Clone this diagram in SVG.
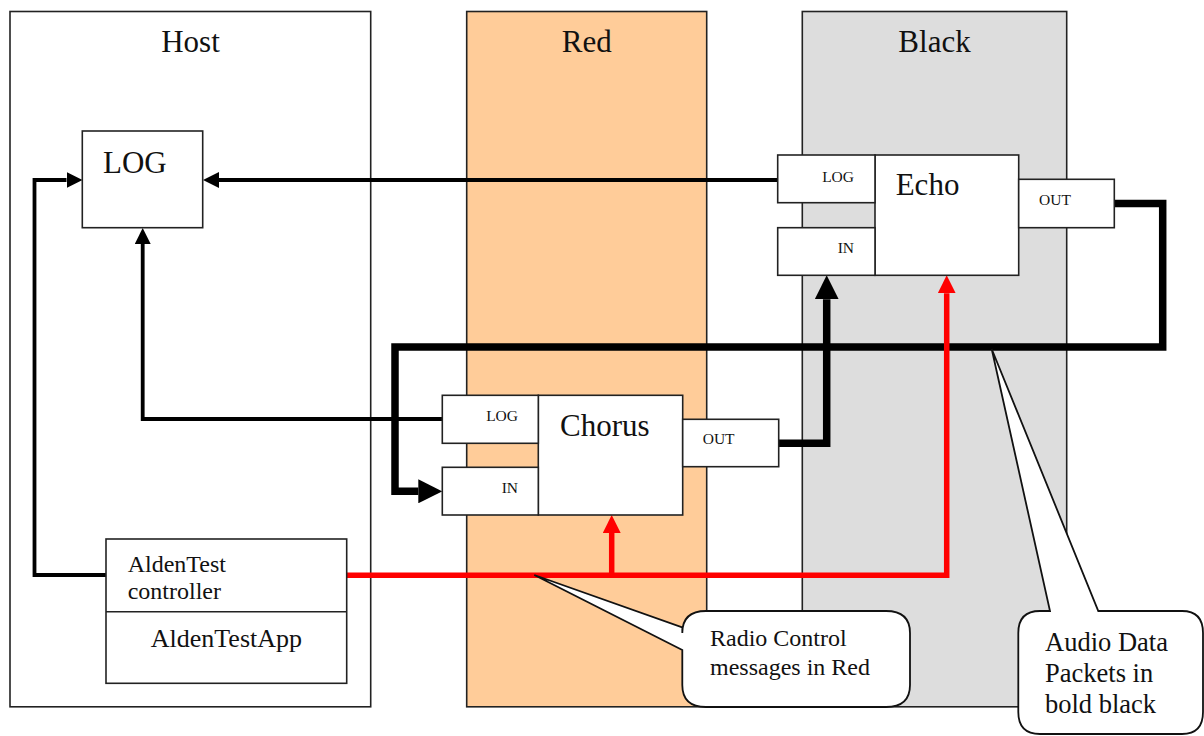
<svg xmlns="http://www.w3.org/2000/svg" width="1204" height="736" viewBox="0 0 1204 736">
  <style>
    .lane { stroke: #222; stroke-width: 1.6; }
    .box { fill: #fff; stroke: #222; stroke-width: 1.6; }
    .txt { font-family: "Liberation Serif", "Times New Roman", serif; fill: #111; }
    .title { font-size: 31px; }
    .port { font-size: 15.5px; }
    .note { font-size: 24px; }
    .log { fill: none; stroke: #000; stroke-width: 3.8; stroke-linejoin: miter; }
    .audio { fill: none; stroke: #000; stroke-width: 7.5; stroke-linejoin: miter; }
    .ctrl { fill: none; stroke: #ff0000; stroke-width: 5.5; stroke-linejoin: miter; }
    .callout { fill: #fff; stroke: #111; stroke-width: 1.8; }
  </style>
  <defs>
    <marker id="arrow-log" markerUnits="userSpaceOnUse" markerWidth="16" markerHeight="16" refX="0" refY="8" orient="auto">
      <path d="M0,0 L16,8 L0,16 Z" fill="#000"/>
    </marker>
    <marker id="arrow-audio" markerUnits="userSpaceOnUse" markerWidth="24" markerHeight="24" refX="0" refY="12" orient="auto">
      <path d="M0,0 L24,12 L0,24 Z" fill="#000"/>
    </marker>
    <marker id="arrow-ctrl" markerUnits="userSpaceOnUse" markerWidth="18" markerHeight="18" refX="0" refY="9" orient="auto">
      <path d="M0,0 L18,9 L0,18 Z" fill="#ff0000"/>
    </marker>
  </defs>

  <rect width="1204" height="736" fill="#fff"/>

  <!-- swimlanes -->
  <g id="lane-host">
    <rect class="lane" x="10" y="11.5" width="360.7" height="695.3" fill="#fff"/>
    <text class="txt title" x="190.5" y="52" text-anchor="middle">Host</text>
  </g>
  <g id="lane-red">
    <rect class="lane" x="466.7" y="11.5" width="240" height="695.3" fill="#ffcc99"/>
    <text class="txt title" x="586.7" y="52" text-anchor="middle">Red</text>
  </g>
  <g id="lane-black">
    <rect class="lane" x="802.3" y="11.5" width="264.4" height="695.3" fill="#dddddd"/>
    <text class="txt title" x="934.5" y="52" text-anchor="middle">Black</text>
  </g>

  <!-- connectors -->
  <g id="connectors">
    <!-- log traffic -->
    <path class="log" d="M106 575 H34.5 V180 H66.5" marker-end="url(#arrow-log)"/>
    <path class="log" d="M778 180 H219" marker-end="url(#arrow-log)"/>
    <path class="log" d="M442.3 419 H142.7 V244" marker-end="url(#arrow-log)"/>
    <!-- audio data packets -->
    <path class="audio" d="M1114.3 203.5 H1162.7 V347 H395 V491.3 H418.3" marker-end="url(#arrow-audio)"/>
    <path class="audio" d="M778.7 443.3 H826.7 V299.3" marker-end="url(#arrow-audio)"/>
    <!-- radio control messages -->
    <path class="ctrl" d="M346.7 575.3 H946.7 V293.3" marker-end="url(#arrow-ctrl)"/>
    <path class="ctrl" d="M611.7 575.3 V533" marker-end="url(#arrow-ctrl)"/>
  </g>

  <!-- host components -->
  <g id="node-log">
    <rect class="box" x="82.3" y="131" width="120.4" height="96.7"/>
    <text class="txt title" x="103" y="172.7">LOG</text>
  </g>
  <g id="node-aldentest">
    <rect class="box" x="106" y="539" width="240.7" height="144.3"/>
    <line x1="106" y1="611.7" x2="346.7" y2="611.7" stroke="#222" stroke-width="1.6"/>
    <text class="txt" font-size="24" x="127.7" y="571.7">AldenTest</text>
    <text class="txt" font-size="24" x="127.7" y="599">controller</text>
    <text class="txt" font-size="26" x="226.4" y="646.7" text-anchor="middle">AldenTestApp</text>
  </g>

  <!-- Chorus component -->
  <g id="node-chorus">
    <rect class="box" x="538.3" y="395.3" width="144.4" height="119.7"/>
    <text class="txt title" x="560" y="436">Chorus</text>
    <rect class="box" x="442.3" y="395.3" width="96" height="48"/>
    <text class="txt port" x="518" y="421" text-anchor="end">LOG</text>
    <rect class="box" x="442.3" y="467.3" width="96" height="47.7"/>
    <text class="txt port" x="518" y="492.7" text-anchor="end">IN</text>
    <rect class="box" x="682.7" y="419.3" width="96" height="47.4"/>
    <text class="txt port" x="702.7" y="444.3">OUT</text>
  </g>

  <!-- Echo component -->
  <g id="node-echo">
    <rect class="box" x="875" y="155" width="143.7" height="120.3"/>
    <text class="txt title" x="895.7" y="195">Echo</text>
    <rect class="box" x="777.7" y="155" width="97.3" height="47.7"/>
    <text class="txt port" x="854" y="181.7" text-anchor="end">LOG</text>
    <rect class="box" x="777.7" y="227.7" width="97.3" height="47.6"/>
    <text class="txt port" x="854" y="253.3" text-anchor="end">IN</text>
    <rect class="box" x="1018.7" y="179.3" width="95.6" height="48.4"/>
    <text class="txt port" x="1039" y="205">OUT</text>
  </g>

  <!-- callouts -->
  <g id="callout-control">
    <path class="callout" d="M706 611 H886 Q910 611 910 633 V685 Q910 707 886 707 H706 Q682.3 707 682.3 685 V650 L534.3 575 L682.3 627.3 V633 Q682.3 611 706 611 Z"/>
    <text class="txt note" x="710" y="646">Radio Control</text>
    <text class="txt note" x="710" y="675">messages in Red</text>
  </g>
  <g id="callout-audio">
    <path class="callout" d="M1018.3 633 Q1018.3 611 1040 611 H1050 L991.7 349 L1098.3 611 H1182 Q1203 611 1203 633 V712 Q1203 734 1182 734 H1040 Q1018.3 734 1018.3 712 Z"/>
    <text class="txt" font-size="26.5" x="1045" y="650.7">Audio Data</text>
    <text class="txt" font-size="26.5" x="1045" y="681.7">Packets in</text>
    <text class="txt" font-size="26.5" x="1045" y="712.7">bold black</text>
  </g>
</svg>
